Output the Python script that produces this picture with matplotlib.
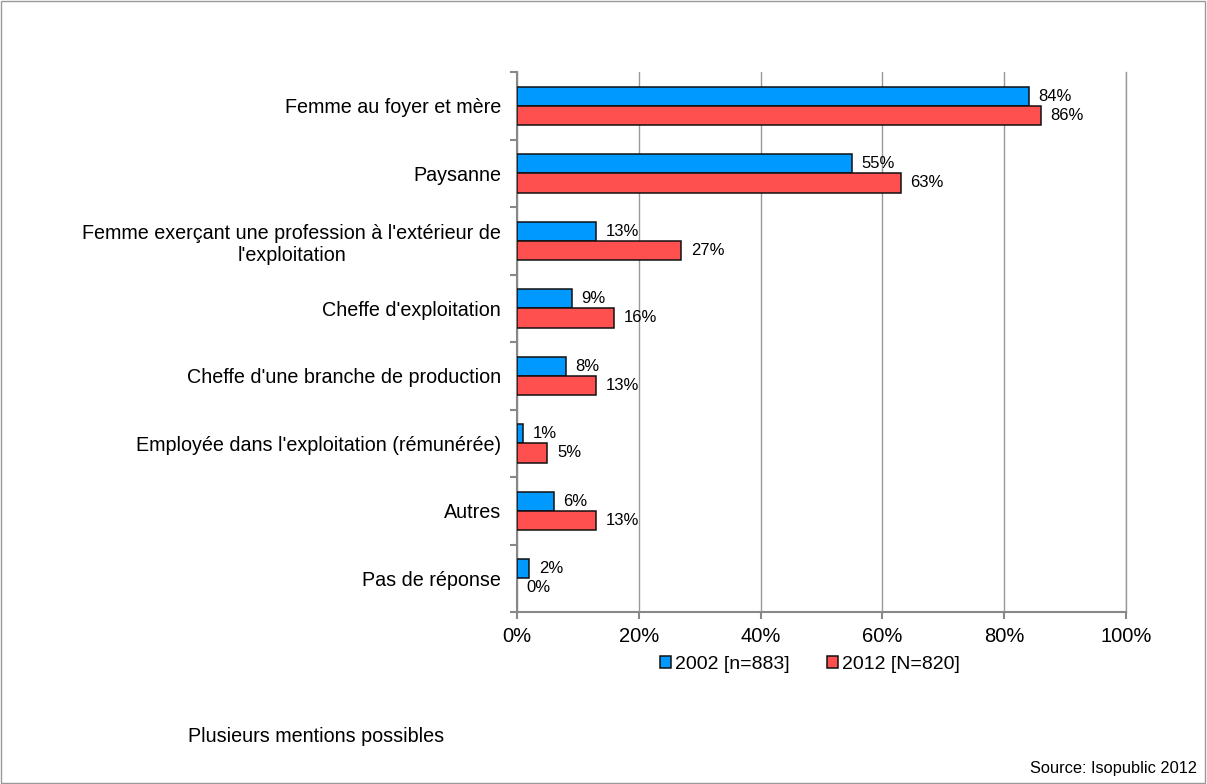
import numpy as np
import matplotlib.pyplot as plt
from matplotlib.patches import Rectangle

plt.rcParams['font.family'] = ['Liberation Sans', 'DejaVu Sans']

categories = [
    "Femme au foyer et mère",
    "Paysanne",
    "Femme exerçant une profession à l'extérieur de\nl'exploitation",
    "Cheffe d'exploitation",
    "Cheffe d'une branche de production",
    "Employée dans l'exploitation (rémunérée)",
    "Autres",
    "Pas de réponse",
]
vals_2002 = [84, 55, 13, 9, 8, 1, 6, 2]
vals_2012 = [86, 63, 27, 16, 13, 5, 13, 0]
series_labels = ["2002 [n=883]", "2012 [N=820]"]
x_ticks = [0, 20, 40, 60, 80, 100]


def main():
    fig = plt.figure(figsize=(12.07, 7.84), dpi=100)
    ax = fig.add_axes([0.4283, 0.2194, 0.5046, 0.6886])

    y = np.arange(len(categories))
    h = 0.285
    b1 = ax.barh(y - h / 2, vals_2002, height=h, color='#0099FF',
                 edgecolor='#111111', linewidth=1.1, label=series_labels[0], zorder=3)
    b2 = ax.barh(y + h / 2, vals_2012, height=h, color='#FF5050',
                 edgecolor='#111111', linewidth=1.1, label=series_labels[1], zorder=3)
    # hide the outline of empty bars
    for bars, vals in ((b1, vals_2002), (b2, vals_2012)):
        for p, v in zip(bars.patches, vals):
            if v == 0:
                p.set_linewidth(0)

    off = 1.6
    for yy, v in zip(y - h / 2, vals_2002):
        ax.text(v + off, yy, f"{v}%", va='center', ha='left', fontsize=12)
    for yy, v in zip(y + h / 2, vals_2012):
        ax.text(v + off, yy, f"{v}%", va='center', ha='left', fontsize=12)

    ax.set_xlim(0, 100)
    ax.set_ylim(len(categories) - 0.5, -0.5)
    ax.set_xticks(x_ticks)
    ax.set_xticklabels([f"{t}%" for t in x_ticks], fontsize=14.5)
    ax.set_yticks(y)
    ax.set_yticklabels(categories, fontsize=14.2, multialignment='center')
    ax.set_yticks(np.arange(-0.5, len(categories) + 0.5, 1), minor=True)
    ax.tick_params(axis='y', which='major', length=0, pad=11.5)
    ax.tick_params(axis='y', which='minor', length=5, color='#888888', width=1.5)
    ax.tick_params(axis='x', which='major', length=5, color='#888888', width=1.5, pad=6)

    ax.grid(axis='x', color='#999999', linewidth=1, zorder=0)
    ax.axvline(100, color='#999999', linewidth=1, zorder=0, clip_on=False)
    for s in ['top', 'right']:
        ax.spines[s].set_visible(False)
    for s in ['left', 'bottom']:
        ax.spines[s].set_color('#888888')
        ax.spines[s].set_linewidth(1.5)

    fig.legend(handles=[b1, b2], labels=series_labels, loc='center',
               bbox_to_anchor=(0.671, 0.153), ncol=2, frameon=False,
               fontsize=14, handlelength=0.6, handleheight=0.6,
               handletextpad=0.2, columnspacing=1.9)

    fig.text(188 / 1207, 1 - 737 / 784, "Plusieurs mentions possibles",
             fontsize=14.2, va='center', ha='left')
    fig.text(1197 / 1207, 1 - 768 / 784, "Source: Isopublic 2012",
             fontsize=11.8, va='center', ha='right')

    fig.patches.append(Rectangle((0.0005, 0.0008), 0.998, 0.998, transform=fig.transFigure,
                                 fill=False, edgecolor='#999999', linewidth=1))

    fig.savefig("out.png", dpi=100)


if __name__ == '__main__':
    main()
